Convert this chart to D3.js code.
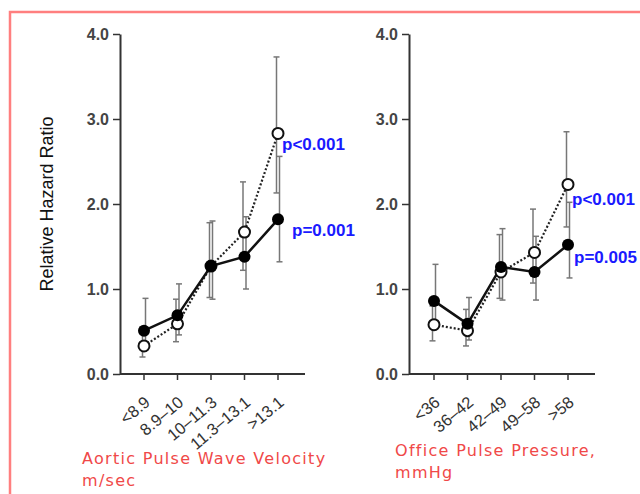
<!DOCTYPE html>
<meta charset="utf-8">
<script src="https://d3js.org/d3.v7.min.js"></script>
<style>
body{margin:0;background:#fff}
svg{display:block;font-family:"Liberation Sans",Arial,sans-serif}
</style>
<div id="chart"></div>
<script>
// panel 1: aortic PWV
var pwvCats = ["<8.9","8.9\u201310","10\u201311.3","11.3\u201313.1",">13.1"]
var pwvFilled = [0.51,0.69,1.27,1.38,1.82]
var pwvFilledLo = [0.38,0.46,0.88,1.00,1.32]
var pwvFilledHi = [0.89,1.06,1.80,1.85,2.56]
var pwvOpen = [0.33,0.59,1.27,1.67,2.83]
var pwvOpenLo = [0.20,0.38,0.90,1.22,2.13]
var pwvOpenHi = [0.55,0.88,1.78,2.26,3.73]

// panel 2: office pulse pressure
var ppCats = ["<36","36\u201342","42\u201349","49\u201358",">58"]
var ppFilled = [0.86,0.59,1.26,1.20,1.52]
var ppFilledLo = [0.60,0.40,0.87,0.87,1.13]
var ppFilledHi = [1.29,0.90,1.71,1.62,2.02]
var ppOpen = [0.58,0.51,1.20,1.43,2.23]
var ppOpenLo = [0.39,0.33,0.89,1.07,1.73]
var ppOpenHi = [0.80,0.76,1.64,1.94,2.85]

var yTicks = [0,1,2,3,4]

var W = 640, H = 494
var svg = d3.select("#chart").append("svg").attr("width",W).attr("height",H)

// red frame
svg.append("rect").attr("x",10).attr("y",12).attr("width",660).attr("height",520)
	.attr("fill","none").attr("stroke","#ff7f7f").attr("stroke-width",2.5)

var y = d3.scaleLinear().domain([0,4]).range([374,34])

svg.append("text").text("Relative Hazard Ratio")
	.attr("transform","translate(53,204) rotate(-90)")
	.attr("text-anchor","middle").style("font-size","18px").attr("fill","#111")

function panel(axisX, xEnd, xFirst, xLast, cats, fil, filLo, filHi, opn, opnLo, opnHi){
	var x = d3.scalePoint().domain(cats).range([xFirst,xLast])
	var g = svg.append("g")

	// y axis
	var yAxis = g.append("g").attr("transform","translate("+axisX+",0)")
		.call(d3.axisLeft(y).tickValues(yTicks).tickFormat(d3.format(".1f")).tickSize(7).tickSizeOuter(0))
	// x axis
	var xAxis = g.append("g").attr("transform","translate(0,374)")
	xAxis.append("line").attr("x1",axisX).attr("x2",xEnd).attr("y1",0).attr("y2",0)
		.attr("stroke","#333").attr("stroke-width",2)
	xAxis.selectAll(".tk").data(cats).join("line")
		.attr("x1",d=>x(d)).attr("x2",d=>x(d)).attr("y1",0).attr("y2",6)
		.attr("stroke","#333").attr("stroke-width",1.5)
	xAxis.selectAll(".lb").data(cats).join("text")
		.text(d=>d)
		.attr("transform",d=>"translate("+(x(d)+7)+",30) rotate(-40)")
		.attr("text-anchor","end").style("font-size","16.5px").attr("fill","#333")

	yAxis.select(".domain").attr("stroke","#333").attr("stroke-width",2)
	yAxis.selectAll(".tick line").attr("stroke","#333").attr("stroke-width",1.5)
	yAxis.selectAll(".tick text").style("font-size","16px").style("font-weight","bold")
		.attr("fill","#444").attr("x",-11)

	// error bars
	function bars(lo,hi,dx){
		var eb = g.append("g").attr("stroke","#777").attr("stroke-width",1.5)
		eb.selectAll("line.v").data(cats).join("line")
			.attr("x1",d=>x(d)+dx).attr("x2",d=>x(d)+dx)
			.attr("y1",(d,i)=>y(lo[i])).attr("y2",(d,i)=>y(hi[i]))
		eb.selectAll("line.t").data(cats).join("line")
			.attr("x1",d=>x(d)+dx-3).attr("x2",d=>x(d)+dx+3)
			.attr("y1",(d,i)=>y(hi[i])).attr("y2",(d,i)=>y(hi[i]))
		eb.selectAll("line.b").data(cats).join("line")
			.attr("x1",d=>x(d)+dx-3).attr("x2",d=>x(d)+dx+3)
			.attr("y1",(d,i)=>y(lo[i])).attr("y2",(d,i)=>y(lo[i]))
	}
	bars(opnLo,opnHi,-1.5)
	bars(filLo,filHi,1.5)

	var line = d3.line().x((d,i)=>x(cats[i])).y(d=>y(d))
	g.append("path").datum(opn).attr("d",line).attr("fill","none")
		.attr("stroke","#222").attr("stroke-width",2.2).attr("stroke-dasharray","2,2")
	g.append("path").datum(fil).attr("d",line).attr("fill","none")
		.attr("stroke","#111").attr("stroke-width",2.5)

	g.selectAll("circle.o").data(opn).join("circle")
		.attr("cx",(d,i)=>x(cats[i])).attr("cy",d=>y(d)).attr("r",5.5)
		.attr("fill","#fff").attr("stroke","#111").attr("stroke-width",2)
	g.selectAll("circle.f").data(fil).join("circle")
		.attr("cx",(d,i)=>x(cats[i])).attr("cy",d=>y(d)).attr("r",6)
		.attr("fill","#000")
	return x
}

panel(120,305,144,278,pwvCats,pwvFilled,pwvFilledLo,pwvFilledHi,pwvOpen,pwvOpenLo,pwvOpenHi)
panel(409,595,434,568,ppCats,ppFilled,ppFilledLo,ppFilledHi,ppOpen,ppOpenLo,ppOpenHi)

// p-values
var pLabels = [
	{t:"p<0.001",x:282,y:150},
	{t:"p=0.001",x:292,y:236},
	{t:"p<0.001",x:572,y:205},
	{t:"p=0.005",x:574,y:263}
]
svg.selectAll(".pv").data(pLabels).join("text")
	.text(d=>d.t).attr("x",d=>d.x).attr("y",d=>d.y)
	.style("font-size","17px").style("font-weight","bold").attr("fill","#1a1aff")

// panel titles
var titles = [
	{t:"Aortic Pulse Wave Velocity",x:82,y:464},
	{t:"m/sec",x:82,y:486},
	{t:"Office Pulse Pressure,",x:395,y:456},
	{t:"mmHg",x:395,y:478}
]
svg.selectAll(".tt").data(titles).join("text")
	.text(d=>d.t).attr("x",d=>d.x).attr("y",d=>d.y)
	.style("font-family","'DejaVu Sans',sans-serif").style("font-size","16px")
	.style("letter-spacing","1.3px").attr("fill","#f04848")
</script>
